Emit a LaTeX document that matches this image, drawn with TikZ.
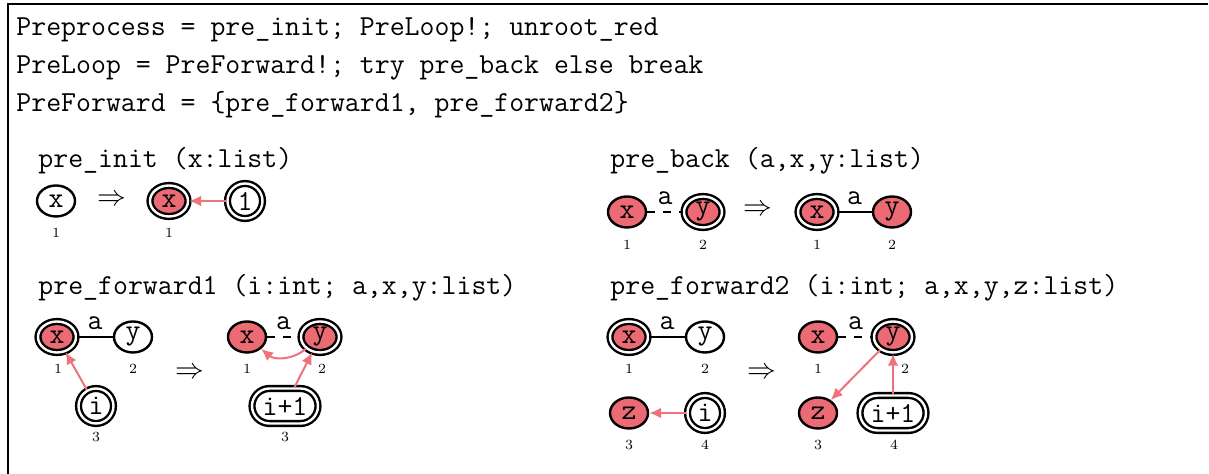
\documentclass[tikz,border=0pt]{standalone}
\usetikzlibrary{shapes.geometric,arrows.meta}
\definecolor{nodered}{RGB}{236,106,116}
\definecolor{arrred}{RGB}{238,114,122}
\begin{document}
\begin{tikzpicture}[>={Latex[length=6pt,width=5.4pt]}, x=.5pt, y=-.5pt,
    every node/.style={font=\fontsize{14.5}{17}\selectfont\ttfamily},
    gnode/.style={ellipse, draw, line width=1.2pt, minimum width=19pt, minimum height=15.5pt, inner sep=0pt},
    inode/.style={gnode, minimum width=17.5pt, minimum height=17.5pt},
    hit/.style={fill=nodered},
    root/.style={double, double distance=1.2pt},
    num/.style={font=\fontsize{7}{8}\selectfont\rmfamily, inner sep=0pt},
    imp/.style={font=\fontsize{14}{16}\selectfont},
    elab/.style={above, inner sep=3pt},
    edge/.style={line width=1.2pt},
    tag/.style={->, arrred, line width=1pt}]
    \useasboundingbox (0,0) rectangle (1209,474);
    \draw[line width=.8pt] (1208,4)--(8,4)--(8,474);
    \node[anchor=base west,inner sep=0pt] (line1) at (16,36) {Preprocess = pre\_init; PreLoop!; unroot\_red};
    \node[anchor=base west,inner sep=0pt] (line2) at (16,74) {PreLoop = PreForward!; try pre\_back else break};
    \node[anchor=base west,inner sep=0pt] (line3) at (16,112) {PreForward = \{pre\_forward1, pre\_forward2\}};
    % pre_init
    \node[anchor=base west,inner sep=0pt] (tinit) at (38,168) {pre\_init (x:list)};
    \node[gnode] (ax) at (56,201) {x};
    \node[imp] (aimp) at (112,200) {$\Rightarrow$};
    \node[gnode,hit,root] (bx) at (169,201) {x};
    \node[inode,root] (bone) at (245,201) {1};
    \draw[tag] (bone)--(bx);
    \node[num] (anum1) at (56,233) {1};\node[num] (bnum1) at (169,233) {1};
    % pre_back
    \node[anchor=base west,inner sep=0pt] (tback) at (610,168) {pre\_back (a,x,y:list)};
    \node[gnode,hit] (cx) at (627,212) {x};
    \node[gnode,hit,root] (cy) at (703,212) {y};
    \node[imp] (cimp) at (758,210) {$\Rightarrow$};
    \node[gnode,hit,root] (dx) at (817,212) {x};
    \node[gnode,hit] (dy) at (892,212) {y};
    \draw[edge,dashed,dash pattern=on 4pt off 4pt] (cx)--node[elab]{a}(cy);
    \draw[edge] (dx)--node[elab]{a}(dy);
    \node[num] (cnum1) at (627,245) {1};\node[num] (cnum2) at (703,245) {2};
    \node[num] (dnum1) at (817,245) {1};\node[num] (dnum2) at (892,245) {2};
    % pre_forward1
    \node[anchor=base west,inner sep=0pt] (tfwa) at (38,295) {pre\_forward1 (i:int; a,x,y:list)};
    \node[gnode,hit,root] (ex) at (57,337) {x};
    \node[gnode] (ey) at (133,337) {y};
    \node[inode,root] (ei) at (96,406) {i};
    \node[imp] (eimp) at (190,373) {$\Rightarrow$};
    \node[gnode,hit] (fx) at (247,337) {x};
    \node[gnode,hit,root] (fy) at (320,337) {y};
    \node[inode,root,rectangle,rounded corners=8.75pt,minimum width=33pt] (fi) at (285,406) {i+1};
    \draw[edge] (ex)--node[elab]{a}(ey);
    \draw[tag] (ei)--(ex);
    \draw[edge,dashed,dash pattern=on 4pt off 4pt] (fx)--node[elab]{a}(fy);
    \draw[tag] (fy) to[bend left=40] (fx);
    \draw[tag] (fi)--(fy);
    \node[num] (enum1) at (58,369) {1};\node[num] (enum2) at (133,369) {2};\node[num] (enum3) at (96,437) {3};
    \node[num] (fnum1) at (247,369) {1};\node[num] (fnum2) at (322,369) {2};\node[num] (fnum3) at (285,437) {3};
    % pre_forward2
    \node[anchor=base west,inner sep=0pt] (tfwb) at (610,295) {pre\_forward2 (i:int; a,x,y,z:list)};
    \node[gnode,hit,root] (gx) at (629,337) {x};
    \node[gnode] (gy) at (705,337) {y};
    \node[gnode,hit] (gz) at (629,413) {z};
    \node[inode,root] (gi) at (705,413) {i};
    \node[imp] (gimp) at (762,373) {$\Rightarrow$};
    \node[gnode,hit] (hx) at (818,337) {x};
    \node[gnode,hit,root] (hy) at (893,337) {y};
    \node[gnode,hit] (hz) at (818,413) {z};
    \node[inode,root,rectangle,rounded corners=8.75pt,minimum width=33pt] (hi) at (893,413) {i+1};
    \draw[edge] (gx)--node[elab]{a}(gy);
    \draw[tag] (gi)--(gz);
    \draw[edge,dashed,dash pattern=on 4pt off 4pt] (hx)--node[elab]{a}(hy);
    \draw[tag] (hy)--(hz);
    \draw[tag] (hi)--(hy);
    \node[num] (gnum1) at (629,369) {1};\node[num] (gnum2) at (705,369) {2};
    \node[num] (gnum3) at (629,445) {3};\node[num] (gnum4) at (705,445) {4};
    \node[num] (hnum1) at (818,369) {1};\node[num] (hnum2) at (905,369) {2};
    \node[num] (hnum3) at (818,445) {3};\node[num] (hnum4) at (894,445) {4};
\end{tikzpicture}
\end{document}
